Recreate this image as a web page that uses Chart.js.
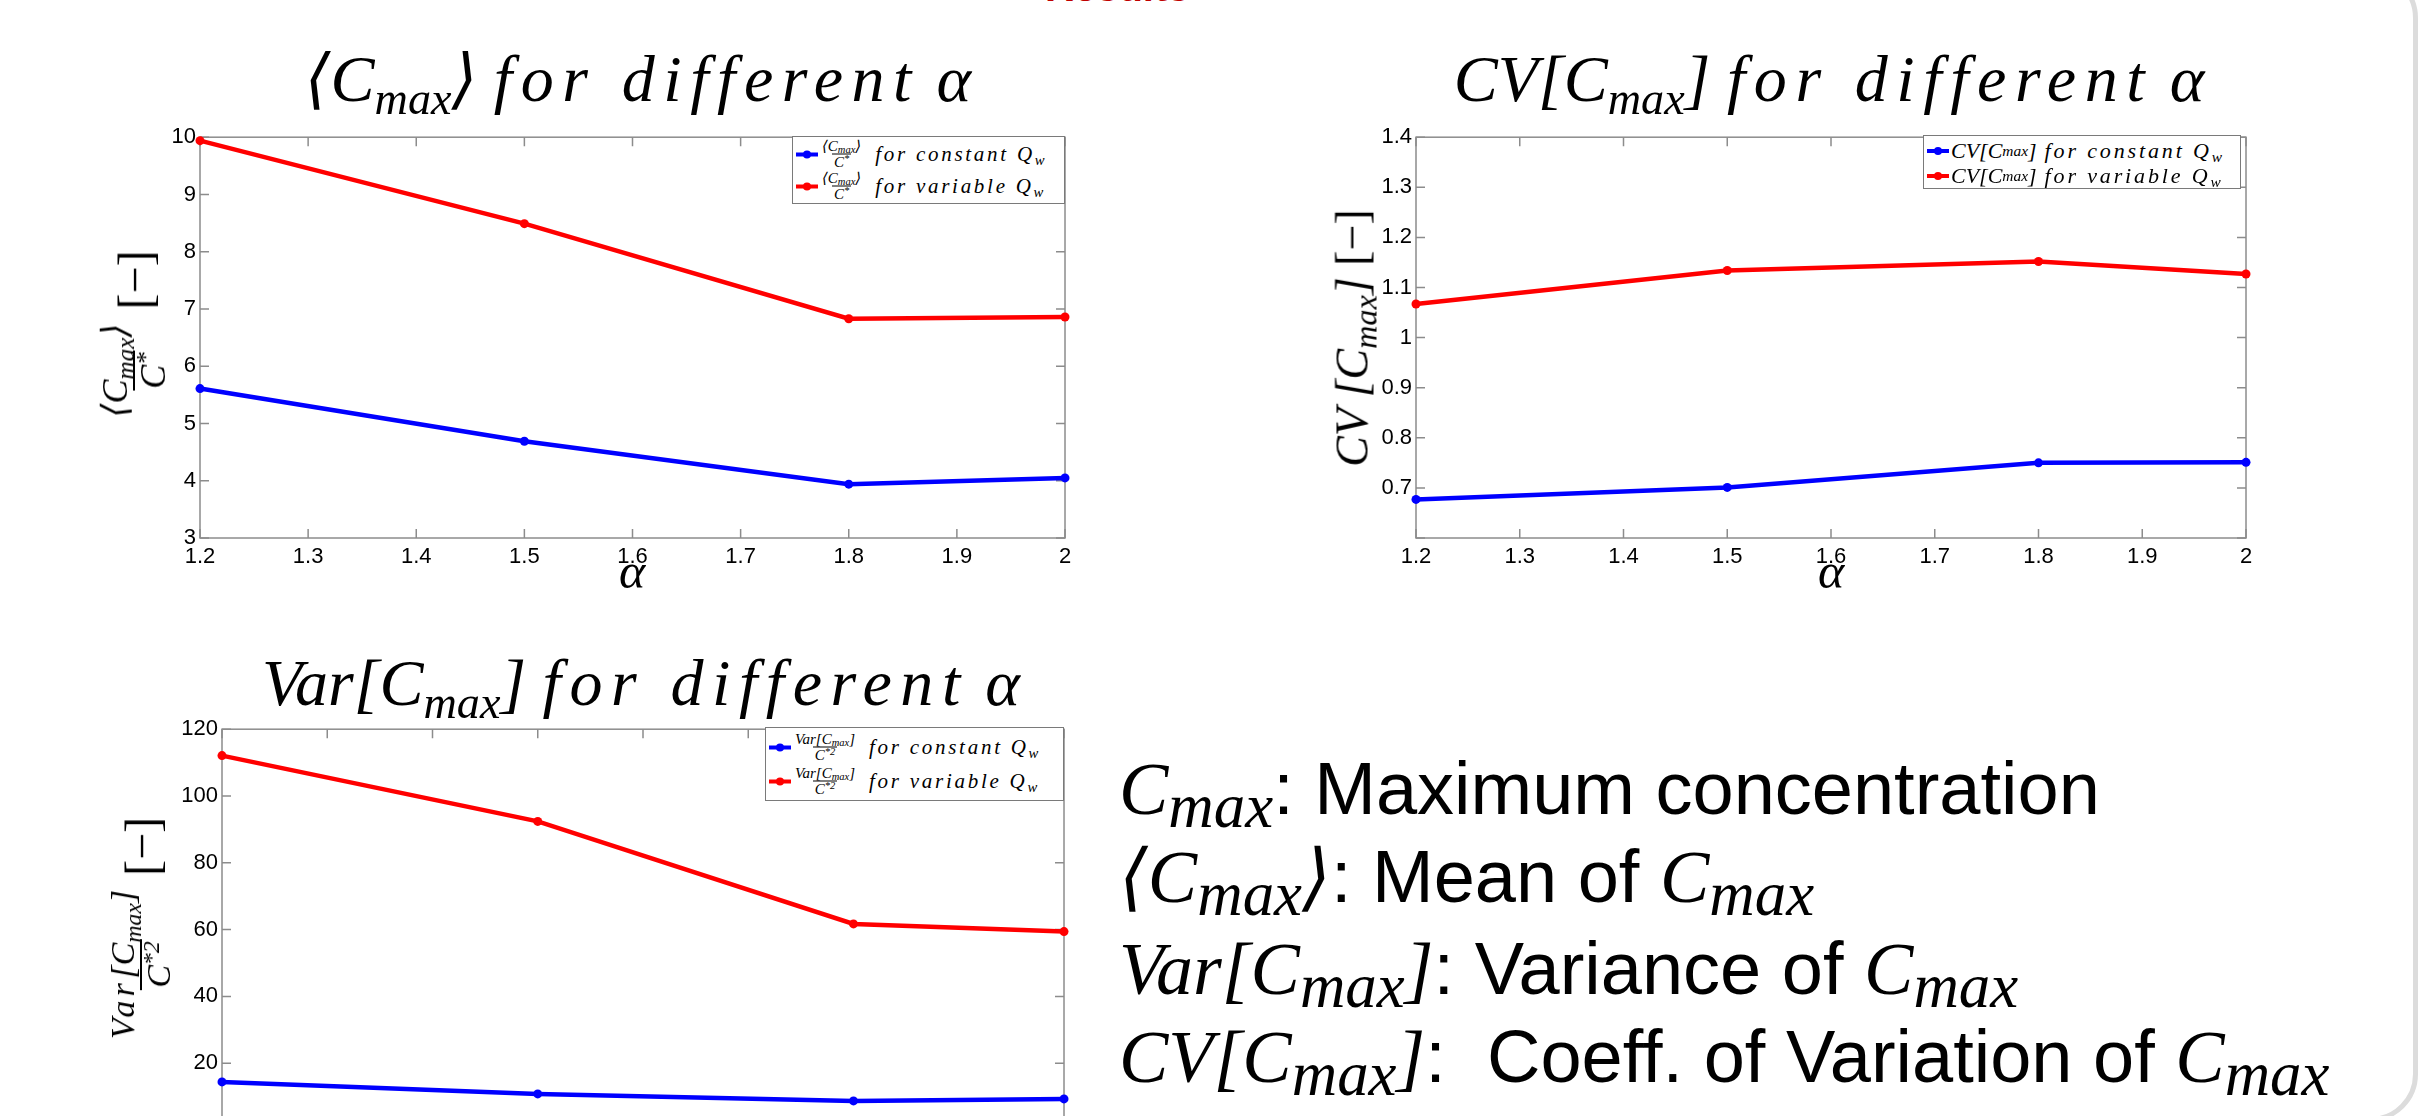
<!DOCTYPE html>
<html>
<head>
<meta charset="utf-8">
<script src="https://cdn.jsdelivr.net/npm/chart.js@4"></script>
<style>
  html, body { margin:0; padding:0; background:#fff; }
  body { width:2431px; height:1116px; overflow:hidden; position:relative; }
  canvas { position:absolute; }
  .abs { position:absolute; white-space:nowrap; }
  .tex { font-family:'Liberation Serif','DejaVu Serif',serif; font-style:italic; color:#000; }
  .tex sub { font-size:0.7em; vertical-align:-0.28em; line-height:0; }
  .tex sup { font-size:0.7em; vertical-align:0.45em; line-height:0; }
  .sp { letter-spacing:0.13em; }
  .title { font-size:66px; line-height:66px; transform:translateX(-50%); }
  .alpha { font-size:50px; line-height:50px; transform:translateX(-50%); }
  .ylab { transform:translate(-50%,-50%) rotate(-90deg); display:flex; align-items:center; }
  .frac { display:inline-flex; flex-direction:column; align-items:center; vertical-align:middle; }
  .frac > span { line-height:1; padding:0 2px; }
  .frac > .den { border-top:2px solid #000; }
  .legend { position:absolute; background:#fff; border:1.5px solid #7a7a7a; box-sizing:border-box; }
  .lrow { position:absolute; left:3px; display:flex; align-items:center; white-space:nowrap; transform:translateY(-50%); }
  .swatch { position:relative; width:22px; height:4px; margin-right:2px; }
  .swatch::after { content:''; position:absolute; left:7px; top:-2px; width:8px; height:8px; border-radius:50%; background:inherit; }
  .notes { font-family:'Liberation Sans',Arial,sans-serif; font-size:74px; line-height:74px; color:#000; }
  .notes .m { font-family:'Liberation Serif','DejaVu Serif',serif; font-style:italic; }
  .notes .m sub { font-size:0.85em; vertical-align:-0.2em; line-height:0; }
  .panel { position:absolute; left:-100px; top:-30px; width:2518px; height:1152px; border:5px solid #dcdcdc; border-radius:48px; box-sizing:border-box; }
  .cut { font-family:'Liberation Sans',Arial,sans-serif; font-weight:bold; font-size:40px; line-height:40px; color:#c00000; }
</style>
</head>
<body>
<div class="panel"></div>
<div class="abs cut" style="left:1045px; top:-33px;">Results</div>

<canvas id="meanChart" width="950" height="470" style="left:130px; top:120px;"></canvas>
<canvas id="cvChart" width="915" height="470" style="left:1346px; top:120px;"></canvas>
<canvas id="varChart" width="927" height="470" style="left:152px; top:712px;"></canvas>

<!-- titles -->
<div class="abs tex title" style="left:638px; top:46px;">⟨C<sub>max</sub>⟩ <span class="sp">for different</span> α</div>
<div class="abs tex title" style="left:1829px; top:46px;">CV[C<sub>max</sub>] <span class="sp">for different</span> α</div>
<div class="abs tex title" style="left:641px; top:650px;">Var[C<sub>max</sub>] <span class="sp">for different</span> α</div>

<!-- x axis labels -->
<div class="abs tex alpha" style="left:632px; top:546px;">α</div>
<div class="abs tex alpha" style="left:1831px; top:546px;">α</div>

<!-- y axis labels -->
<div class="abs tex ylab" style="left:134px; top:335px;">
  <span class="frac" style="font-size:36px;"><span>⟨C<sub>max</sub>⟩</span><span class="den">C<sup>*</sup></span></span>
  <span style="font-size:48px; margin-left:12px; font-style:normal;">[−]</span>
</div>
<div class="abs tex ylab" style="left:1352px; top:338px; font-size:46px;">
  <span>CV [C<sub>max</sub>] <span style="font-style:normal;">[−]</span></span>
</div>
<div class="abs tex ylab" style="left:141px; top:929px;">
  <span class="frac" style="font-size:34px;"><span><span class="sp">Var</span>[C<sub>max</sub>]</span><span class="den">C<sup>*2</sup></span></span>
  <span style="font-size:48px; margin-left:12px; font-style:normal;">[−]</span>
</div>

<!-- legends -->
<div class="legend" style="left:792px; top:136px; width:273px; height:68px;">
  <div class="lrow tex" style="top:17px;"><span class="swatch" style="background:#0000ff"></span><span class="frac" style="font-size:15px;"><span>⟨C<sub>max</sub>⟩</span><span class="den" style="border-top-width:1px">C<sup>*</sup></span></span><span class="sp" style="font-size:21px; margin-left:12px;">for constant Q<sub>w</sub></span></div>
  <div class="lrow tex" style="top:49px;"><span class="swatch" style="background:#ff0000"></span><span class="frac" style="font-size:15px;"><span>⟨C<sub>max</sub>⟩</span><span class="den" style="border-top-width:1px">C<sup>*</sup></span></span><span class="sp" style="font-size:21px; margin-left:12px;">for variable Q<sub>w</sub></span></div>
</div>
<div class="legend" style="left:1923px; top:135px; width:318px; height:54px;">
  <div class="lrow tex" style="top:15px; font-size:22px;"><span class="swatch" style="background:#0000ff"></span>CV[C<sub>max</sub>] <span class="sp" style="margin-left:8px;">for constant Q<sub>w</sub></span></div>
  <div class="lrow tex" style="top:40px; font-size:22px;"><span class="swatch" style="background:#ff0000"></span>CV[C<sub>max</sub>] <span class="sp" style="margin-left:8px;">for variable Q<sub>w</sub></span></div>
</div>
<div class="legend" style="left:765px; top:727px; width:299px; height:74px;">
  <div class="lrow tex" style="top:19px;"><span class="swatch" style="background:#0000ff"></span><span class="frac" style="font-size:15px;"><span>Var[C<sub>max</sub>]</span><span class="den" style="border-top-width:1px">C<sup>*2</sup></span></span><span class="sp" style="font-size:21px; margin-left:12px;">for constant Q<sub>w</sub></span></div>
  <div class="lrow tex" style="top:53px;"><span class="swatch" style="background:#ff0000"></span><span class="frac" style="font-size:15px;"><span>Var[C<sub>max</sub>]</span><span class="den" style="border-top-width:1px">C<sup>*2</sup></span></span><span class="sp" style="font-size:21px; margin-left:12px;">for variable Q<sub>w</sub></span></div>
</div>

<!-- definitions -->
<div class="abs notes" style="left:1119px; top:752px;"><span class="m">C<sub>max</sub></span>: Maximum concentration</div>
<div class="abs notes" style="left:1119px; top:840px;"><span class="m">⟨C<sub>max</sub>⟩</span>: Mean of <span class="m">C<sub>max</sub></span></div>
<div class="abs notes" style="left:1119px; top:932px;"><span class="m">Var[C<sub>max</sub>]</span>: Variance of <span class="m">C<sub>max</sub></span></div>
<div class="abs notes" style="left:1119px; top:1020px;"><span class="m">CV[C<sub>max</sub>]</span>:&nbsp; Coeff. of Variation of <span class="m">C<sub>max</sub></span></div>

<script>
// alpha values where the runs were done
const ALPHA = [1.2, 1.5, 1.8, 2.0];
const X_TICKS = [1.2, 1.3, 1.4, 1.5, 1.6, 1.7, 1.8, 1.9, 2.0];
const X_LABELS = ['1.2', '1.3', '1.4', '1.5', '1.6', '1.7', '1.8', '1.9', '2'];

// <Cmax>/C*
const MEAN_CONST = [5.61, 4.69, 3.94, 4.05];
const MEAN_VAR = [9.94, 8.49, 6.83, 6.86];
const MEAN_TICKS = [3, 4, 5, 6, 7, 8, 9, 10];
const MEAN_LABELS = ['3', '4', '5', '6', '7', '8', '9', '10'];

// CV[Cmax]
const CV_CONST = [0.677, 0.701, 0.750, 0.751];
const CV_VAR = [1.067, 1.134, 1.152, 1.127];
const CV_TICKS = [0.6, 0.7, 0.8, 0.9, 1.0, 1.1, 1.2, 1.3, 1.4];
const CV_LABELS = ['', '0.7', '0.8', '0.9', '1', '1.1', '1.2', '1.3', '1.4'];

// Var[Cmax]/C*^2
const VAR_CONST = [14.4, 10.8, 8.7, 9.3];
const VAR_VAR = [112.1, 92.4, 61.7, 59.4];
const VAR_TICKS = [0, 20, 40, 60, 80, 100, 120];
const VAR_LABELS = ['0', '20', '40', '60', '80', '100', '120'];

const BLUE = '#0000ff', RED = '#ff0000';
const tickFont = { family: "'Liberation Sans', Arial, sans-serif", size: 22 };

// matlab style box with inward ticks on all four sides
const frameTicks = {
  id: 'frameTicks',
  beforeDatasetsDraw(chart) {
    const { ctx, chartArea: a, scales: { x, y } } = chart;
    const len = 9;
    ctx.save();
    ctx.strokeStyle = '#8c8c8c';
    ctx.lineWidth = 1.5;
    ctx.strokeRect(a.left, a.top, a.width, a.height);
    ctx.beginPath();
    x.ticks.forEach(t => {
      const px = x.getPixelForValue(t.value);
      ctx.moveTo(px, a.bottom); ctx.lineTo(px, a.bottom - len);
      ctx.moveTo(px, a.top); ctx.lineTo(px, a.top + len);
    });
    y.ticks.forEach(t => {
      const py = y.getPixelForValue(t.value);
      ctx.moveTo(a.left, py); ctx.lineTo(a.left + len, py);
      ctx.moveTo(a.right, py); ctx.lineTo(a.right - len, py);
    });
    ctx.stroke();
    ctx.restore();
  }
};

function axis(ticks, labels, isX) {
  return {
    type: 'linear',
    min: ticks[0],
    max: ticks[ticks.length - 1],
    afterBuildTicks: s => { s.ticks = ticks.map(v => ({ value: v })); },
    afterFit: s => { if (isX) s.height = 52; else s.width = 70; },
    grid: { display: false, drawTicks: false },
    border: { display: false },
    ticks: {
      padding: isX ? 6 : 4,
      color: '#000',
      font: tickFont,
      autoSkip: false,
      maxRotation: 0,
      callback: (v, i) => labels[i]
    }
  };
}

function series(vals, color) {
  return {
    data: ALPHA.map((a, i) => ({ x: a, y: vals[i] })),
    borderColor: color,
    backgroundColor: color,
    borderWidth: 4.5,
    pointRadius: 4.5,
    pointHoverRadius: 4.5,
    pointBorderWidth: 0,
    tension: 0,
    clip: false
  };
}

function makeChart(id, constVals, varVals, yTicks, yLabels) {
  return new Chart(document.getElementById(id), {
    type: 'line',
    data: { datasets: [series(constVals, BLUE), series(varVals, RED)] },
    options: {
      responsive: false,
      animation: false,
      layout: { padding: { top: 12, right: 15, left: 0, bottom: 0 } },
      plugins: { legend: { display: false }, tooltip: { enabled: false } },
      scales: {
        x: axis(X_TICKS, X_LABELS, true),
        y: axis(yTicks, yLabels, false)
      }
    },
    plugins: [frameTicks]
  });
}

makeChart('meanChart', MEAN_CONST, MEAN_VAR, MEAN_TICKS, MEAN_LABELS);
makeChart('cvChart', CV_CONST, CV_VAR, CV_TICKS, CV_LABELS);
makeChart('varChart', VAR_CONST, VAR_VAR, VAR_TICKS, VAR_LABELS);
</script>
</body>
</html>
